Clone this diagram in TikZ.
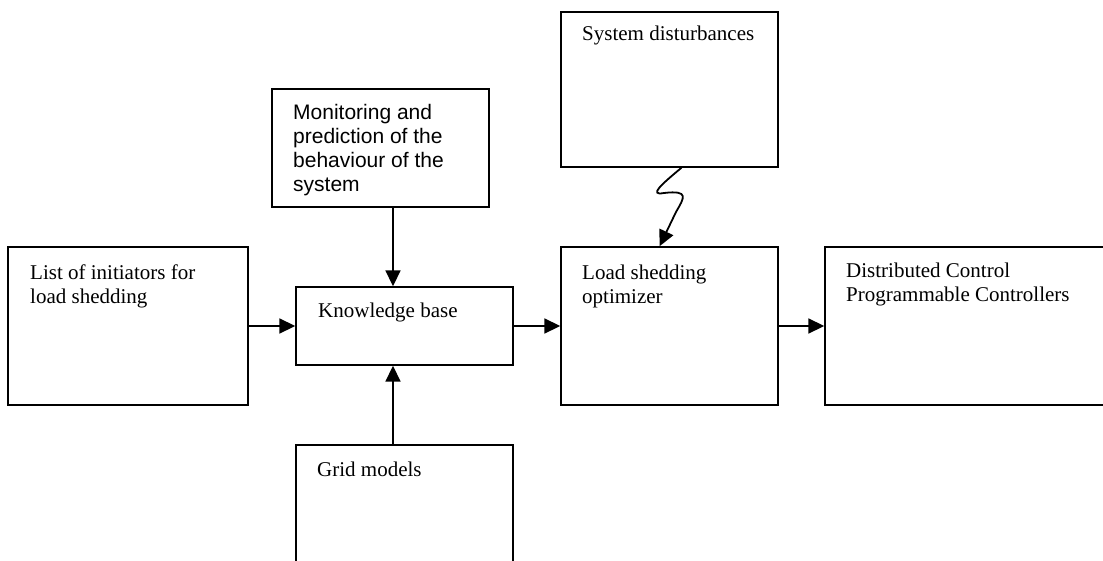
\documentclass[tikz,border=0pt]{standalone}
\usepackage{fontspec}
\setmainfont{Liberation Serif}
\newfontfamily\arialfont{Liberation Sans}
\usetikzlibrary{arrows.meta}
\tikzset{
  blk/.style = {draw = black, line width = 1.4pt, rectangle, inner sep = 0pt},
  txt/.style = {anchor = base west, inner sep = 0pt, font = \fontsize{21}{24}\selectfont},
  flow/.style = {line width = 1.8pt, -{Triangle[length = 16pt, width = 15pt]}}
}
\newcommand\lines[1]{\parbox[t]{250pt}{#1}}
\begin{document}
\begin{tikzpicture}[x = 1pt, y = -1pt]
\useasboundingbox (0,0) rectangle (1103,560);
% boxes
\node[blk, minimum width = 240pt, minimum height = 158pt] (list) at (128,326) {};
\node[blk, minimum width = 217pt, minimum height = 78pt] (know) at (404.5,326) {};
\node[blk, minimum width = 217pt, minimum height = 118pt] (mon) at (380.5,148) {};
\node[blk, minimum width = 217pt, minimum height = 130pt] (grid) at (404.5,510) {};
\node[blk, minimum width = 217pt, minimum height = 155pt] (dist) at (669.5,89.5) {};
\node[blk, minimum width = 217pt, minimum height = 158pt] (opt) at (669.5,326) {};
\node[blk, minimum width = 300pt, minimum height = 158pt] (ctrl) at (975,326) {};
% texts
\node[txt] (listtxt) at (30,279) {\lines{List of initiators for\\load shedding}};
\node[txt] (knowtxt) at (318,317) {Knowledge base};
\node[txt, font = \fontsize{21}{24}\arialfont] (montxt) at (293,119)
  {\lines{Monitoring and\\prediction of the\\behaviour of the\\system}};
\node[txt] (gridtxt) at (317,476) {Grid models};
\node[txt] (disttxt) at (582,40) {System disturbances};
\node[txt] (opttxt) at (582,279) {\lines{Load shedding\\optimizer}};
\node[txt] (ctrltxt) at (846,277) {\lines{Distributed Control\\Programmable Controllers}};
% arrows
\coordinate (kn) at ([xshift = -11.5pt]know.north);
\coordinate (ks) at ([xshift = -11.5pt]know.south);
\draw[flow] (list.east) -- (know.west);
\draw[flow] (know.east) -- (opt.west);
\draw[flow] (opt.east |- know.east) -- (ctrl.west |- know.east);
\draw[flow] (mon.south -| kn) -- (kn);
\draw[flow] (grid.north -| ks) -- (ks);
\draw[flow] ([xshift = 12pt]dist.south) .. controls (662,184) and (648,196) .. (664,193)
  .. controls (690,190) and (684,198) .. (676,212) -- ([xshift = -10pt]opt.north);
\end{tikzpicture}
\end{document}
